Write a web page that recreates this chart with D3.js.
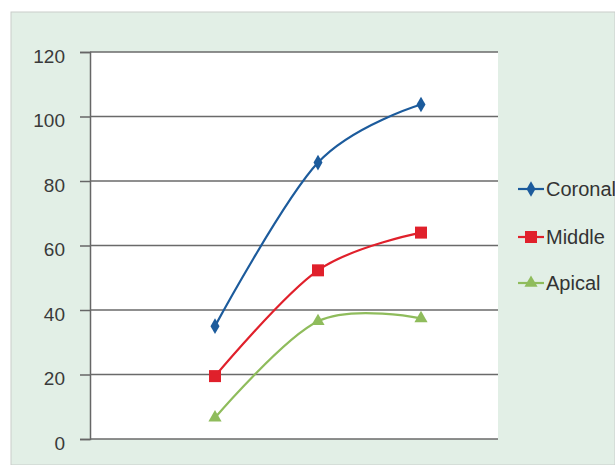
<!DOCTYPE html>
<html><head><meta charset="utf-8">
<script src="https://cdn.jsdelivr.net/npm/d3@7"></script>
<style>html,body{margin:0;padding:0;background:#fff;}svg{display:block;}</style>
</head><body>
<script>
const categories = ["1", "2", "3"];
const seriesNames = ["Coronal", "Middle", "Apical"];
const coronal = [35, 85.7, 103.7];
const middle = [19.5, 52.3, 64];
const apical = [6.6, 36.5, 37.4];
const yTicks = [0, 20, 40, 60, 80, 100, 120];
const colors = ["#1c5b9c", "#e0202b", "#8fbc5c"];

const W = 615, H = 465;
const svg = d3.select("body").append("svg").attr("width", W).attr("height", H);
svg.append("rect").attr("x", 11).attr("y", 12).attr("width", W - 11).attr("height", H - 12)
  .attr("fill", "#e2efe6").attr("stroke", "#c9cdca").attr("stroke-width", 1);

const plot = {left: 90, right: 498, top: 52, bottom: 439};
svg.append("rect").attr("x", plot.left).attr("y", plot.top)
  .attr("width", plot.right - plot.left).attr("height", plot.bottom - plot.top).attr("fill", "#ffffff");

const y = d3.scaleLinear().domain([0, 120]).range([plot.bottom, plot.top]);
const x = d3.scalePoint().domain(categories).range([215, 421]);

const yAxis = d3.axisLeft(y).tickValues(yTicks).tickSize(10).tickPadding(15);
const gy = svg.append("g").attr("transform", `translate(${plot.left},0)`).call(yAxis);
gy.select(".domain").attr("stroke", "#666").attr("stroke-width", 1.5);
gy.selectAll(".tick line").attr("stroke", "#666").attr("stroke-width", 1.5);
gy.selectAll(".tick text").attr("fill", "#3a3a3a").attr("dy", "0.55em")
  .style("font-family", "Liberation Sans, Arial, sans-serif").style("font-size", "19px");

svg.append("g").selectAll("line").data(yTicks).join("line")
  .attr("x1", plot.left).attr("x2", plot.right)
  .attr("y1", d => y(d)).attr("y2", d => y(d))
  .attr("stroke", "#6a6a6a").attr("stroke-width", 1.5);

const data = [coronal, middle, apical];
const line = d3.line().x((d, i) => x(categories[i])).y(d => y(d)).curve(d3.curveCardinal.tension(0));

data.forEach((vals, s) => {
  svg.append("path").attr("d", line(vals)).attr("fill", "none")
    .attr("stroke", colors[s]).attr("stroke-width", 2.2);
});

function marker(g, s, cx, cy) {
  if (s === 0) {
    g.append("path").attr("d", d3.symbol(d3.symbolDiamond, 70)())
      .attr("transform", `translate(${cx},${cy})`).attr("fill", colors[0]);
  } else if (s === 1) {
    const sz = 12;
    g.append("rect").attr("x", cx - sz / 2).attr("y", cy - sz / 2).attr("width", sz).attr("height", sz).attr("fill", colors[1]);
  } else {
    g.append("path").attr("d", d3.symbol(d3.symbolTriangle, 75)())
      .attr("transform", `translate(${cx},${cy})`).attr("fill", colors[2]);
  }
}

const mg = svg.append("g");
data.forEach((vals, s) => {
  vals.forEach((v, i) => marker(mg, s, x(categories[i]), y(v)));
});

const legY = [189, 237, 283];
const lg = svg.append("g");
seriesNames.forEach((name, s) => {
  lg.append("line").attr("x1", 518).attr("x2", 544).attr("y1", legY[s]).attr("y2", legY[s])
    .attr("stroke", colors[s]).attr("stroke-width", 2.2);
  marker(lg, s, 531, legY[s]);
  lg.append("text").attr("x", 546).attr("y", legY[s]).attr("dy", "0.36em")
    .attr("fill", "#333").style("font-family", "Liberation Sans, Arial, sans-serif").style("font-size", "20px")
    .text(name);
});
</script>
</body></html>
